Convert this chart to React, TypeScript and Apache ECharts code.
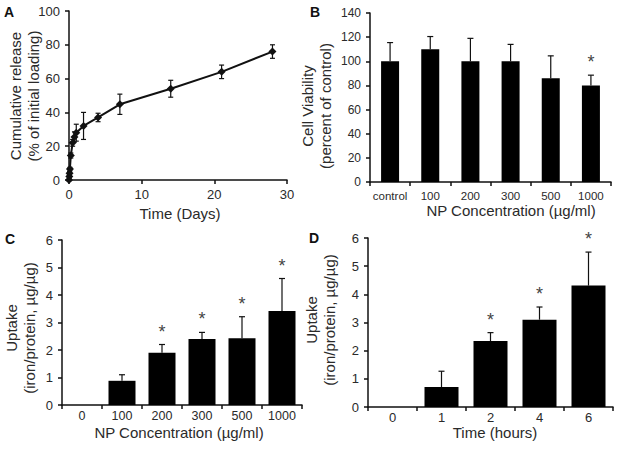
import React, { useEffect, useRef } from "react";
import * as echarts from "echarts";

// Panel A: cumulative release
const releaseDays = [0, 0.04, 0.08, 0.125, 0.25, 0.5, 0.75, 1, 2, 4, 7, 14, 21, 28];
const releaseValues = [0, 2, 4, 6.5, 14.5, 22, 25.5, 28, 32, 37, 44.8, 54, 64, 76];
const releaseErr = [0.5, 1, 1, 1, 1.5, 2, 3, 5, 8, 2.5, 6, 5, 4, 4];
const releaseXTicks = [0, 10, 20, 30];

// Panel B: cell viability
const viabilityCats = ["control", "100", "200", "300", "500", "1000"];
const viabilityMean = [100, 110, 100, 100, 86, 80];
const viabilityErr = [15.5, 10.5, 19, 14, 18.5, 8.5];
const viabilitySig = [0, 0, 0, 0, 0, 1];

// Panel C: uptake vs concentration
const concCats = ["0", "100", "200", "300", "500", "1000"];
const concMean = [0, 0.88, 1.9, 2.4, 2.43, 3.42];
const concErr = [0, 0.22, 0.3, 0.24, 0.78, 1.18];
const concSig = [0, 0, 1, 1, 1, 1];

// Panel D: uptake vs time
const timeCats = ["0", "1", "2", "4", "6"];
const timeMean = [0, 0.71, 2.34, 3.1, 4.31];
const timeErr = [0, 0.56, 0.3, 0.45, 1.19];
const timeSig = [0, 0, 1, 1, 1];

const FONT = "Liberation Sans, Arial, sans-serif";
const TXT = "#2a2a2a";

function makeErrRender(cap: number, twoSided: boolean) {
  return (params: any, api: any) => {
    const x = api.value(0);
    const lo = api.value(1);
    const hi = api.value(2);
    const sig = api.value(3);
    const children: any[] = [];
    const pLo = api.coord([x, lo]);
    const pHi = api.coord([x, hi]);
    const st = { stroke: "#111", lineWidth: 1.2 };
    if (hi > lo) {
      children.push({ type: "line", shape: { x1: pLo[0], y1: pLo[1], x2: pHi[0], y2: pHi[1] }, style: st });
      children.push({ type: "line", shape: { x1: pHi[0] - cap, y1: pHi[1], x2: pHi[0] + cap, y2: pHi[1] }, style: st });
      if (twoSided) {
        children.push({ type: "line", shape: { x1: pLo[0] - cap, y1: pLo[1], x2: pLo[0] + cap, y2: pLo[1] }, style: st });
      }
    }
    if (sig) {
      children.push({
        type: "text",
        x: pHi[0],
        y: pHi[1] - 4,
        style: { text: "*", font: `18px ${FONT}`, fill: "#444", align: "center", verticalAlign: "bottom" },
      });
    }
    return { type: "group", children };
  };
}

function oneSided(cats: string[], mean: number[], err: number[], sig: number[]) {
  return cats.map((_, i) => [i, mean[i], mean[i] + err[i], sig[i]]);
}

const axisLineStyle = { lineStyle: { color: "#111", width: 1.5 } };
const axisTickStyle = { show: true, length: 4, lineStyle: { color: "#111", width: 1.5 } };

function catX(gridIndex: number, cats: string[], fontSize: number, margin: number) {
  return {
    type: "category",
    gridIndex,
    data: cats,
    axisLine: axisLineStyle,
    axisTick: axisTickStyle,
    axisLabel: { color: TXT, fontSize, fontFamily: FONT, margin, interval: 0 },
    splitLine: { show: false },
  };
}

function valY(gridIndex: number, max: number, interval: number, fontSize: number) {
  return {
    type: "value",
    gridIndex,
    min: 0,
    max,
    interval,
    axisLine: { show: true, ...axisLineStyle },
    axisTick: axisTickStyle,
    axisLabel: { color: TXT, fontSize, fontFamily: FONT, margin: 9 },
    splitLine: { show: false },
  };
}

function title(text: string, x: number, y: number, rotate: boolean, size = 15) {
  return {
    type: "text",
    x,
    y,
    rotation: rotate ? Math.PI / 2 : 0,
    style: {
      text,
      font: `${size}px ${FONT}`,
      fill: TXT,
      align: "center",
      verticalAlign: "middle",
      lineHeight: 18,
    },
  };
}

function panelLabel(text: string, x: number, y: number) {
  return {
    type: "text",
    x,
    y,
    style: { text, font: `bold 14px ${FONT}`, fill: "#111", align: "center", verticalAlign: "middle" },
  };
}

export default function App() {
  const ref = useRef<HTMLDivElement>(null);
  useEffect(() => {
    document.body.style.margin = "0";
    const chart = echarts.init(ref.current!, null, { renderer: "svg" });
    const releaseData = releaseDays.map((d, i) => [d, releaseValues[i]]);
    const releaseErrData = releaseDays.map((d, i) => [d, releaseValues[i] - releaseErr[i], releaseValues[i] + releaseErr[i], 0]);
    chart.setOption({
      animation: false,
      backgroundColor: "#fff",
      grid: [
        { left: 69, top: 11, width: 218, height: 169 },
        { left: 370, top: 13, width: 241, height: 169 },
        { left: 62, top: 240, width: 240, height: 165 },
        { left: 368, top: 238, width: 245, height: 169 },
      ],
      xAxis: [
        {
          type: "value",
          gridIndex: 0,
          min: 0,
          max: 30,
          interval: 10,
          axisLine: axisLineStyle,
          axisTick: axisTickStyle,
          axisLabel: { color: TXT, fontSize: 13, fontFamily: FONT, margin: 8, customValues: releaseXTicks },
          splitLine: { show: false },
        },
        catX(1, viabilityCats, 11.5, 8),
        catX(2, concCats, 12.5, 4),
        catX(3, timeCats, 13, 4),
      ],
      yAxis: [
        valY(0, 100, 20, 13),
        valY(1, 140, 20, 12),
        valY(2, 6, 1, 13),
        valY(3, 6, 1, 13),
      ],
      series: [
        {
          type: "line",
          xAxisIndex: 0,
          yAxisIndex: 0,
          data: releaseData,
          symbol: "diamond",
          symbolSize: 8,
          lineStyle: { color: "#111", width: 2 },
          itemStyle: { color: "#111" },
          z: 3,
        },
        {
          type: "custom",
          xAxisIndex: 0,
          yAxisIndex: 0,
          data: releaseErrData,
          renderItem: makeErrRender(2.5, true),
          z: 2,
        },
        {
          type: "bar",
          xAxisIndex: 1,
          yAxisIndex: 1,
          data: viabilityMean,
          barWidth: 18,
          itemStyle: { color: "#000" },
        },
        {
          type: "custom",
          xAxisIndex: 1,
          yAxisIndex: 1,
          data: oneSided(viabilityCats, viabilityMean, viabilityErr, viabilitySig),
          renderItem: makeErrRender(3, false),
        },
        {
          type: "bar",
          xAxisIndex: 2,
          yAxisIndex: 2,
          data: concMean,
          barWidth: 27,
          itemStyle: { color: "#000" },
        },
        {
          type: "custom",
          xAxisIndex: 2,
          yAxisIndex: 2,
          data: oneSided(concCats, concMean, concErr, concSig),
          renderItem: makeErrRender(3, false),
        },
        {
          type: "bar",
          xAxisIndex: 3,
          yAxisIndex: 3,
          data: timeMean,
          barWidth: 34,
          itemStyle: { color: "#000" },
        },
        {
          type: "custom",
          xAxisIndex: 3,
          yAxisIndex: 3,
          data: oneSided(timeCats, timeMean, timeErr, timeSig),
          renderItem: makeErrRender(3, false),
        },
      ],
      graphic: [
        panelLabel("A", 9, 12),
        panelLabel("B", 315, 12),
        panelLabel("C", 10, 239),
        panelLabel("D", 314, 238),
        title("Cumulative release\n(% of initial loading)", 24, 96, true),
        title("Time (Days)", 180, 213, false),
        title("Cell Viability\n(percent of control)", 316, 106, true),
        title("NP Concentration (µg/ml)", 511, 210, false),
        title("Uptake\n(iron/protein, µg/µg)", 20, 328, true),
        title("NP Concentration (µg/ml)", 179, 432, false),
        title("Uptake\n(iron/protein, µg/µg)", 320, 320, true),
        title("Time (hours)", 495, 432, false),
      ],
    });
    return () => chart.dispose();
  }, []);
  return <div ref={ref} style={{ width: 621, height: 450 }} />;
}
